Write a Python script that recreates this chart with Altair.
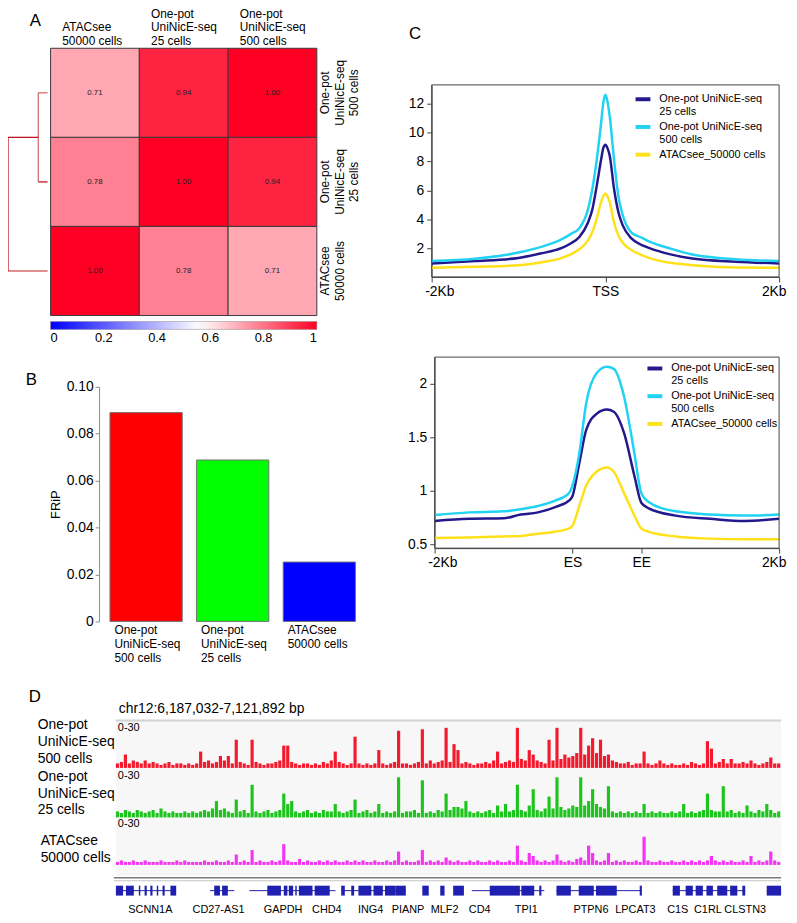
import altair as alt
import pandas as pd

FONT = "Liberation Sans"
W, H = 789, 915

# ======================= DATA =======================
# Panel A: correlation matrix (rows top->bottom, columns left->right)
heat_cols = ["ATACsee\n50000 cells", "One-pot\nUniNicE-seq\n25 cells", "One-pot\nUniNicE-seq\n500 cells"]
heat_rows = ["One-pot\nUniNicE-seq\n500 cells", "One-pot\nUniNicE-seq\n25 cells", "ATACsee\n50000 cells"]
corr_row_500 = [0.71, 0.94, 1.00]
corr_row_25 = [0.78, 1.00, 0.94]
corr_row_atac = [1.00, 0.78, 0.71]
merge_height_inner = 0.06    # 500 cells + 25 cells
merge_height_outer = 0.255   # (500 + 25 cells) + ATACsee
colorbar_ticks = [0, 0.2, 0.4, 0.6, 0.8, 1]

# Panel B: FRiP
frip_samples = ["One-pot\nUniNicE-seq\n500 cells", "One-pot\nUniNicE-seq\n25 cells", "ATACsee\n50000 cells"]
frip_values = [0.089, 0.0688, 0.0253]
frip_ticks = [0, 0.02, 0.04, 0.06, 0.08, 0.10]

# Panel C: profiles
profile_series = ["One-pot UniNicE-seq\n25 cells", "One-pot UniNicE-seq\n500 cells", "ATACsee_50000 cells"]
tss_pos = [-2000, -1500, -1000, -750, -500, -400, -300, -200, -150, -100, -50, -25, 0,
           25, 50, 100, 150, 200, 300, 400, 500, 750, 1000, 1500, 2000]
tss_25 = [0.98, 1.14, 1.36, 1.66, 2.05, 2.35, 2.8, 3.8, 4.7, 6.3, 8.1, 8.9, 9.15,
          8.9, 8.4, 6.1, 4.5, 3.6, 2.7, 2.3, 2.05, 1.6, 1.32, 1.1, 0.98]
tss_500 = [1.14, 1.3, 1.73, 2.1, 2.65, 3.0, 3.4, 4.7, 6.1, 8.1, 10.6, 12.0, 12.6,
           12.1, 11.1, 8.1, 5.6, 4.3, 3.1, 2.8, 2.5, 2.0, 1.6, 1.27, 1.14]
tss_atac = [0.68, 0.75, 0.86, 1.05, 1.36, 1.6, 1.95, 2.57, 3.14, 4.05, 5.2, 5.6, 5.8,
            5.6, 5.2, 3.8, 2.9, 2.4, 1.9, 1.6, 1.36, 1.02, 0.86, 0.7, 0.68]
tss_ticks = [-2000, 0, 2000]
tss_tick_labels = ["-2Kb", "TSS", "2Kb"]

body_pos = [0, 0.5, 1.0, 1.25, 1.5, 1.75, 1.95, 2.0, 2.1, 2.2, 2.35, 2.5, 2.6,
            2.75, 2.9, 3.0, 3.1, 3.5, 4.0, 4.5, 5.0]
body_25 = [0.72, 0.74, 0.745, 0.78, 0.8, 0.85, 0.91, 0.95, 1.26, 1.57, 1.72, 1.76, 1.74,
           1.54, 1.14, 0.89, 0.84, 0.77, 0.74, 0.72, 0.74]
body_500 = [0.775, 0.8, 0.81, 0.83, 0.86, 0.91, 0.98, 1.05, 1.35, 1.82, 2.1, 2.16, 2.14,
            1.88, 1.35, 0.98, 0.9, 0.81, 0.78, 0.77, 0.78]
body_atac = [0.56, 0.565, 0.575, 0.58, 0.6, 0.62, 0.65, 0.675, 0.86, 1.05, 1.18, 1.22, 1.18,
             0.98, 0.77, 0.65, 0.62, 0.575, 0.555, 0.55, 0.55]
body_ticks = [0, 2, 3, 5]
body_tick_labels = ["-2Kb", "ES", "EE", "2Kb"]

# Panel D: genome browser tracks (kb from chr12:6,187,032), 168 bins
region_kb = 927
track_500 = [3, 4, 9, 3, 5, 4, 3, 5, 3, 4,
             3, 2, 3, 4, 2, 3, 3, 2, 3, 2,
             3, 11, 4, 5, 3, 4, 8, 5, 8, 3,
             19, 4, 3, 2, 19, 4, 3, 2, 3, 3,
             4, 5, 15, 15, 4, 3, 2, 3, 3, 2,
             3, 2, 4, 3, 5, 11, 4, 3, 2, 3,
             21, 3, 2, 3, 2, 3, 12, 3, 2, 3,
             4, 25, 3, 3, 2, 3, 4, 26, 3, 5,
             3, 4, 5, 27, 4, 16, 12, 3, 4, 3,
             2, 3, 3, 4, 3, 5, 11, 3, 4, 5,
             4, 27, 6, 5, 12, 9, 5, 4, 3, 19,
             5, 27, 6, 9, 7, 8, 10, 27, 9, 15,
             20, 10, 19, 8, 9, 5, 4, 3, 3, 4,
             2, 3, 3, 11, 3, 2, 3, 5, 3, 2,
             3, 2, 2, 3, 2, 4, 3, 2, 3, 18,
             13, 3, 4, 6, 3, 6, 3, 3, 4, 3,
             5, 3, 2, 3, 4, 7, 3, 3]
track_25 = [4, 3, 5, 4, 3, 5, 4, 3, 4, 5,
            3, 6, 4, 3, 4, 3, 3, 4, 3, 4,
            3, 4, 5, 4, 6, 11, 5, 6, 4, 3,
            12, 4, 5, 3, 22, 4, 3, 4, 5, 3,
            4, 5, 16, 9, 11, 4, 3, 4, 5, 3,
            4, 3, 5, 4, 4, 9, 4, 3, 4, 5,
            12, 3, 4, 5, 3, 4, 9, 3, 4, 3,
            4, 27, 3, 4, 4, 5, 3, 25, 3, 4,
            3, 5, 4, 16, 5, 7, 7, 6, 11, 4,
            3, 4, 3, 4, 5, 3, 8, 4, 9, 4,
            5, 22, 5, 4, 8, 19, 5, 4, 6, 14,
            6, 27, 7, 5, 6, 8, 7, 27, 8, 11,
            19, 9, 7, 6, 21, 4, 3, 4, 3, 4,
            3, 4, 3, 9, 3, 4, 3, 4, 3, 3,
            4, 3, 4, 9, 3, 4, 3, 4, 5, 16,
            5, 4, 4, 21, 4, 5, 3, 4, 3, 8,
            4, 3, 5, 4, 9, 5, 3, 4]
track_atac = [2, 3, 2, 2, 3, 2, 2, 3, 2, 2,
              2, 3, 2, 2, 2, 3, 2, 3, 2, 2,
              2, 2, 3, 2, 2, 3, 2, 2, 3, 2,
              7, 2, 3, 2, 10, 2, 3, 2, 2, 3,
              2, 3, 14, 3, 2, 2, 4, 2, 3, 2,
              2, 3, 2, 3, 2, 3, 2, 2, 3, 2,
              3, 2, 3, 2, 2, 3, 2, 2, 3, 2,
              3, 9, 2, 3, 2, 2, 3, 10, 2, 3,
              2, 3, 2, 5, 3, 2, 3, 2, 2, 3,
              2, 3, 2, 2, 3, 2, 3, 2, 2, 3,
              2, 13, 3, 2, 8, 6, 3, 2, 3, 2,
              3, 7, 3, 2, 3, 2, 4, 5, 3, 13,
              8, 3, 2, 3, 8, 2, 3, 2, 3, 2,
              2, 3, 2, 19, 3, 2, 2, 3, 2, 2,
              3, 2, 2, 3, 2, 3, 2, 3, 2, 3,
              6, 3, 2, 3, 2, 3, 2, 2, 3, 2,
              6, 2, 3, 2, 3, 9, 3, 2]

intron_start = [0, 131, 186, 314, 390, 496, 614, 776, 907]
intron_end = [84, 165, 306, 390, 404, 597, 732, 877, 927]
exon_start = [0, 14, 32, 40, 48, 57, 65, 76, 137, 148, 211, 234, 241, 250, 255, 277,
              314, 328, 338, 359, 375, 390, 427, 452, 470, 521, 565, 590, 614, 645,
              669, 730, 776, 794, 808, 823, 838, 856, 873, 907]
exon_end = [10, 25, 34, 43, 51, 59, 68, 84, 145, 156, 230, 239, 247, 252, 274, 298,
            319, 332, 356, 372, 390, 404, 436, 458, 485, 563, 583, 593, 634, 666,
            698, 733, 786, 804, 818, 832, 852, 866, 877, 927]
gene_names = ["SCNN1A", "CD27-AS1", "GAPDH", "CHD4", "ING4", "PIANP", "MLF2", "CD4",
              "TPI1", "PTPN6", "LPCAT3", "C1S", "C1RL", "CLSTN3"]
gene_label_kb = [48, 143, 233, 294, 355, 407, 458, 507, 572, 662, 724, 783, 825, 877]

# ======================= LAYOUT (view px) =======================
A_X0, A_X1, A_Y0, A_Y1 = 43, 312, 36, 306
DEN_X0, DEN_X1 = 0, 40
B_X0, B_X1, B_Y0, B_Y1 = 92, 362, 378, 615
CT_X0, CT_X1, CT_Y0, CT_Y1 = 428, 779, 73, 267
CB_X0, CB_X1, CB_Y0, CB_Y1 = 431, 779, 348, 541
D_X0, D_X1 = 109, 781
TRACKS = [(763, 718), (813, 768), (861, 816)]

SERIES_COLORS = ["#23188c", "#22d2f2", "#ffe119"]
TRACK_COLORS = ["#f41a2e", "#1ec41e", "#f533f2"]
FRIP_COLORS = ["#ff0000", "#00ff00", "#0000ff"]
GENE_BLUE = "#1f1fb2"
SPLIT = "split(datum.label, '\\n')"
# pad two-line labels with a leading blank line so all column labels end at the same height
SPLIT3 = "split(length(split(datum.label, '\\n')) < 3 ? ' \\n' + datum.label : datum.label, '\\n')"

one = pd.DataFrame({"k": [0]})


def label(text, x, y, size, align="left", baseline="top", lh=None, color="black"):
    return alt.Chart(pd.DataFrame({"t": [text]})).mark_text(
        align=align, baseline=baseline, fontSize=size, font=FONT, color=color,
        lineBreak="\n", lineHeight=lh if lh else size + 2
    ).encode(x=alt.value(x), y=alt.value(y), text="t:N")


# ----------------------- Panel A -----------------------
heat_df = pd.DataFrame([
    {"row": r, "col": c, "r": v}
    for r, vals in zip(heat_rows, [corr_row_500, corr_row_25, corr_row_atac])
    for c, v in zip(heat_cols, vals)
])
hx = alt.Scale(domain=heat_cols, range=[A_X0, A_X1], paddingInner=0, paddingOuter=0)
hy = alt.Scale(domain=heat_rows, range=[A_Y0, A_Y1], paddingInner=0, paddingOuter=0)

heat_rect = alt.Chart(heat_df).mark_rect(stroke="#3a3a3a", strokeWidth=1).encode(
    x=alt.X("col:N", scale=hx, axis=alt.Axis(
        orient="top", offset=-A_Y0, title=None, ticks=False, domain=False, labelAngle=0,
        labelAlign="left", labelBaseline="bottom", labelOffset=-33, labelPadding=28.5,
        labelFontSize=12, labelLineHeight=14, labelExpr=SPLIT3, labelOverlap=False,
        labelLimit=300, labelColor="black")),
    y=alt.Y("row:N", scale=hy, axis=alt.Axis(
        orient="right", offset=-(W - A_X1), title=None, ticks=False, domain=False,
        labelAngle=270, labelAlign="center", labelBaseline="top", labelPadding=3,
        labelFontSize=12, labelLineHeight=14.5, labelExpr=SPLIT, labelOverlap=False,
        labelLimit=300, labelColor="black")),
    color=alt.Color("r:Q", scale=alt.Scale(domain=[0, 0.56, 1], range=["#0000ff", "#ffffff", "#ff0024"],
                                           interpolate="rgb"),
                    legend=alt.Legend(orient="none", legendX=A_X0, legendY=A_Y1 + 6, direction="horizontal",
                                      gradientLength=A_X1 - A_X0, gradientThickness=8, title=None,
                                      values=colorbar_ticks, format=".1~f", labelFontSize=13,
                                      labelOffset=3, gradientStrokeColor="#888", gradientStrokeWidth=0.5,
                                      labelOverlap=False, padding=0, labelColor="black")),
)
heat_text = alt.Chart(heat_df).mark_text(fontSize=8, color="#222", font=FONT).encode(
    x=alt.X("col:N", scale=hx, axis=None),
    y=alt.Y("row:N", scale=hy, axis=None),
    text=alt.Text("r:Q", format=".2f"),
)

y500, y25, yat = 0.5, 1.5, 2.5
yin = (y500 + y25) / 2
hi, ho = merge_height_inner, merge_height_outer
dendro_df = pd.DataFrame([
    dict(h1=0, h2=hi, y1=y500, y2=y500, tone="light"),
    dict(h1=0, h2=hi, y1=y25, y2=y25, tone="dark"),
    dict(h1=hi, h2=hi, y1=y500, y2=y25, tone="light"),
    dict(h1=hi, h2=ho, y1=yin, y2=yin, tone="dark"),
    dict(h1=0, h2=ho, y1=yat, y2=yat, tone="light"),
    dict(h1=ho, h2=ho, y1=yin, y2=yat, tone="dark"),
])
dendro = alt.Chart(dendro_df).mark_rule(strokeWidth=1.3).encode(
    x=alt.X("h1:Q", scale=alt.Scale(domain=[0, ho], range=[DEN_X1, DEN_X0]), axis=None),
    x2="h2:Q",
    y=alt.Y("y1:Q", scale=alt.Scale(domain=[0, 3], range=[A_Y0, A_Y1]), axis=None),
    y2="y2:Q",
    color=alt.Color("tone:N", scale=alt.Scale(domain=["light", "dark"], range=["#d46a6a", "#c0141c"]), legend=None),
)

# ----------------------- Panel B -----------------------
frip_df = pd.DataFrame({"sample": frip_samples, "frip": frip_values})
bars = alt.Chart(frip_df).mark_bar(stroke="#707070", strokeWidth=1).encode(
    x=alt.X("sample:N", scale=alt.Scale(domain=frip_samples, range=[B_X0, B_X1], paddingInner=0.166, paddingOuter=0.126),
            axis=alt.Axis(orient="bottom", offset=-(H - B_Y1), title=None, ticks=False, domain=False,
                          labelAngle=0, labelAlign="left", labelBaseline="top", labelOffset=-32,
                          labelPadding=3, labelFontSize=12, labelLineHeight=14.5, labelExpr=SPLIT,
                          labelOverlap=False, labelLimit=300, labelColor="black")),
    y=alt.Y("frip:Q", scale=alt.Scale(domain=[0, 0.1], range=[B_Y1, B_Y0]),
            axis=alt.Axis(orient="left", offset=-B_X0, values=frip_ticks,
                          labelExpr="datum.value == 0 ? '0' : format(datum.value, '.2f')",
                          domainColor="#8c8c8c", tickColor="#8c8c8c", tickSize=4, labelFontSize=14,
                          labelPadding=2, title="FRiP", titleFontSize=13, titleFontWeight="normal",
                          titlePadding=4, labelColor="black", titleColor="black")),
    color=alt.Color("sample:N", scale=alt.Scale(domain=frip_samples, range=FRIP_COLORS), legend=None),
)

# ----------------------- Panel C -----------------------
def profile_df(pos, series_vals):
    rows = []
    for name, vals in zip(profile_series, series_vals):
        for p, v in zip(pos, vals):
            rows.append({"pos": p, "signal": v, "sample": name})
    return pd.DataFrame(rows)


def label_expr(ticks, names):
    expr = "''"
    for t, n in zip(ticks, names):
        expr = f"datum.value == {t} ? '{n}' : ({expr})"
    return expr


def line_legend(x, y):
    return alt.Legend(orient="none", legendX=x, legendY=y, title=None, symbolType="stroke",
                      symbolStrokeWidth=4, symbolSize=225, labelFontSize=11, labelExpr=SPLIT,
                      labelOffset=7, rowPadding=0, padding=0, labelLimit=300, labelColor="black")


tss = alt.Chart(profile_df(tss_pos, [tss_25, tss_500, tss_atac])).mark_line(
    strokeWidth=2.5, interpolate="monotone").encode(
    x=alt.X("pos:Q", scale=alt.Scale(domain=[-2000, 2000], range=[CT_X0, CT_X1]),
            axis=alt.Axis(orient="bottom", offset=-(H - CT_Y1), values=tss_ticks,
                          labelExpr=label_expr(tss_ticks, tss_tick_labels), title=None,
                          tickSize=5, labelFontSize=14, labelPadding=3, labelFlush=True,
                          labelFlushOffset=7, domainColor="#444", tickColor="#444", labelColor="black")),
    y=alt.Y("signal:Q", scale=alt.Scale(domain=[0.05, 13.27], range=[CT_Y1, CT_Y0]),
            axis=alt.Axis(orient="left", offset=-CT_X0, values=[2, 4, 6, 8, 10, 12], title=None,
                          tickSize=5, labelFontSize=14, labelPadding=3, domainColor="#444",
                          tickColor="#444", labelColor="black")),
    color=alt.Color("sample:N", scale=alt.Scale(domain=profile_series, range=SERIES_COLORS),
                    legend=line_legend(632, 78)),
)
tss_frame = alt.Chart(one).mark_rect(fillOpacity=0, stroke="#444", strokeWidth=1).encode(
    x=alt.value(CT_X0), x2=alt.value(CT_X1), y=alt.value(CT_Y0), y2=alt.value(CT_Y1))

body = alt.Chart(profile_df(body_pos, [body_25, body_500, body_atac])).mark_line(
    strokeWidth=2.5, interpolate="monotone").encode(
    x=alt.X("pos:Q", scale=alt.Scale(domain=[0, 5], range=[CB_X0, CB_X1]),
            axis=alt.Axis(orient="bottom", offset=-(H - CB_Y1), values=body_ticks,
                          labelExpr=label_expr(body_ticks, body_tick_labels), title=None,
                          tickSize=5, labelFontSize=14, labelPadding=3, labelFlush=True,
                          labelFlushOffset=7, domainColor="#444", tickColor="#444", labelColor="black")),
    y=alt.Y("signal:Q", scale=alt.Scale(domain=[0.466, 2.25], range=[CB_Y1, CB_Y0]),
            axis=alt.Axis(orient="left", offset=-CB_X0, values=[0.5, 1, 1.5, 2], format="~g",
                          title=None, tickSize=5, labelFontSize=14, labelPadding=3,
                          domainColor="#444", tickColor="#444", labelColor="black")),
    color=alt.Color("sample:N", scale=alt.Scale(domain=profile_series, range=SERIES_COLORS),
                    legend=line_legend(644, 350)),
)
body_frame = alt.Chart(one).mark_rect(fillOpacity=0, stroke="#444", strokeWidth=1).encode(
    x=alt.value(CB_X0), x2=alt.value(CB_X1), y=alt.value(CB_Y0), y2=alt.value(CB_Y1))

# ----------------------- Panel D -----------------------
dx = alt.Scale(domain=[0, region_kb], range=[D_X0, D_X1])
n_bins = len(track_500)
bin_kb = region_kb / n_bins

d_bg = alt.Chart(one).mark_rect(color="#f7f7f7").encode(
    x=alt.value(D_X0), x2=alt.value(D_X1), y=alt.value(715), y2=alt.value(872))
d_top = alt.Chart(one).mark_rule(color="#d2d2d2", strokeWidth=2).encode(
    x=alt.value(D_X0), x2=alt.value(D_X1), y=alt.value(715))
d_sep1 = alt.Chart(one).mark_rule(color="#7a7a7a", strokeWidth=1.5).encode(
    x=alt.value(D_X0 - 2), x2=alt.value(D_X1), y=alt.value(874))
d_sep2 = alt.Chart(one).mark_rule(color="#c4c4c4", strokeWidth=1).encode(
    x=alt.value(D_X0 - 2), x2=alt.value(D_X1), y=alt.value(877))

track_layers = []
for vals, color, (base, top) in zip([track_500, track_25, track_atac], TRACK_COLORS, TRACKS):
    tdf = pd.DataFrame({"x0": [i * bin_kb for i in range(n_bins)], "h": vals})
    tdf["x1"] = tdf["x0"] + 0.8 * bin_kb
    track_layers.append(
        alt.Chart(tdf).mark_rect(color=color).encode(
            x=alt.X("x0:Q", scale=dx, axis=None), x2="x1:Q",
            y=alt.Y("h:Q", scale=alt.Scale(domain=[0, 30], range=[base, top]), axis=None),
            y2=alt.datum(0),
        )
    )

introns = alt.Chart(pd.DataFrame({"s": intron_start, "e": intron_end})).mark_rule(
    color=GENE_BLUE, strokeWidth=1).encode(
    x=alt.X("s:Q", scale=dx, axis=None), x2="e:Q", y=alt.value(887))
exons = alt.Chart(pd.DataFrame({"s": exon_start, "e": exon_end})).mark_rect(color=GENE_BLUE).encode(
    x=alt.X("s:Q", scale=dx, axis=None), x2="e:Q", y=alt.value(882), y2=alt.value(892))
gene_text = alt.Chart(pd.DataFrame({"g": gene_names, "p": gene_label_kb})).mark_text(
    fontSize=11, font=FONT, color="black", baseline="middle").encode(
    x=alt.X("p:Q", scale=dx, axis=None), y=alt.value(907), text="g:N")

# ----------------------- Annotations -----------------------
annotations = [
    label("A", 22, 0, 17),
    label("B", 18, 363, 17),
    label("C", 405, 14, 17),
    label("D", 21, 683, 17),
    label("chr12:6,187,032-7,121,892 bp", 112, 704, 14, baseline="middle"),
    label("0-30", 111, 723, 11, baseline="middle"),
    label("0-30", 111, 771, 11, baseline="middle"),
    label("0-30", 111, 820, 11, baseline="middle"),
    label("One-pot\nUniNicE-seq\n500 cells", 30, 713, 14, lh=17),
    label("One-pot\nUniNicE-seq\n25 cells", 30, 765, 14, lh=17),
    label("ATACsee\n50000 cells", 33, 830, 14, lh=17),
]

chart = alt.layer(
    d_bg, d_top, d_sep1, d_sep2,
    heat_rect, heat_text, dendro,
    bars,
    tss, tss_frame, body, body_frame,
    *track_layers, introns, exons, gene_text,
    *annotations,
).resolve_scale(
    x="independent", y="independent", color="independent"
).resolve_axis(
    x="independent", y="independent"
).resolve_legend(
    color="independent"
).properties(
    width=W, height=H, padding=0, autosize=alt.AutoSizeParams(type="none")
).configure_view(
    stroke=None
).configure_axis(
    grid=False, labelFont=FONT, titleFont=FONT
).configure_legend(
    labelFont=FONT, titleFont=FONT
).configure_text(font=FONT)

chart.save("out.html", embed_options={"renderer": "svg", "actions": False})
